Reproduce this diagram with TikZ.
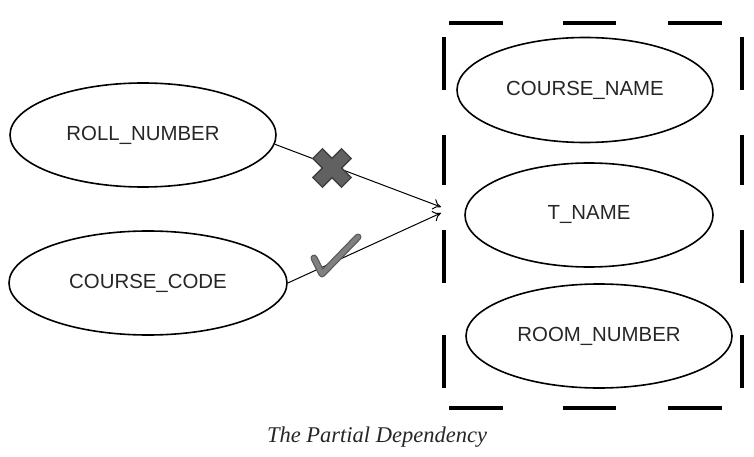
\documentclass[tikz,border=0pt]{standalone}
\usepackage{fontspec}
\setmainfont{Liberation Serif}
\setsansfont{Liberation Sans}
\usetikzlibrary{shapes.geometric,arrows.meta}
\begin{document}
\begin{tikzpicture}[x=1pt,y=-1pt,
  attr/.style={ellipse,draw,line width=1.6pt,inner sep=0pt,
    font=\sffamily\fontsize{20.4}{23}\selectfont,text=black!85},
  dep/.style={line width=1pt,-{To[length=8pt,width=11pt]}},
  boxdash/.style={line width=3.5pt}]
\useasboundingbox (0,0) rectangle (754,457);
\node[attr,minimum width=266pt,minimum height=104pt] (rn) at (143,135) {ROLL\_NUMBER};
\node[attr,minimum width=278pt,minimum height=104pt] (cc) at (148,283) {COURSE\_CODE};
\node[attr,minimum width=256pt,minimum height=105pt] (cn) at (585,90) {COURSE\_NAME};
\node[attr,minimum width=248pt,minimum height=104pt] (tn) at (589,215) {T\_NAME};
\node[attr,minimum width=266pt,minimum height=104pt] (rm) at (599,336) {ROOM\_NUMBER};
% dashed box
\foreach \a/\b in {449/503,563/616,668/722}{
  \draw[boxdash] (\a,23) -- (\b,23);
  \draw[boxdash] (\a,408) -- (\b,408);}
\foreach \a/\b in {37/90,135/185,230/283,335/388}{
  \draw[boxdash] (444,\a) -- (444,\b);
  \draw[boxdash] (742,\a) -- (742,\b);}
\coordinate (t1) at (441,207);
\coordinate (t2) at (441,213);
\draw[dep] (rn.-4) -- (t1);
\draw[dep] (cc.east) -- (t2);
% cross mark
\coordinate (x) at (332,168);
\foreach \r in {45,-45}{
  \draw[black!75,line width=15pt] ([shift={(\r:-21)}]x) -- ([shift={(\r:21)}]x);}
\foreach \r in {45,-45}{
  \draw[black!62,line width=12pt] ([shift={(\r:-19.5)}]x) -- ([shift={(\r:19.5)}]x);}
% check mark
\coordinate (c1) at (314,258);
\coordinate (c2) at (322,274);
\coordinate (c3) at (358,237);
\draw[black!65,line width=7pt,line join=round,line cap=round] (c1) -- (c2) -- (c3);
\draw[black!50,line width=4.5pt,line join=round,line cap=round] (c1) -- (c2) -- (c3);
\node[font=\itshape\fontsize{22.5}{26}\selectfont,text=black!85] (cap) at (377,437) {The Partial Dependency};
\end{tikzpicture}
\end{document}
